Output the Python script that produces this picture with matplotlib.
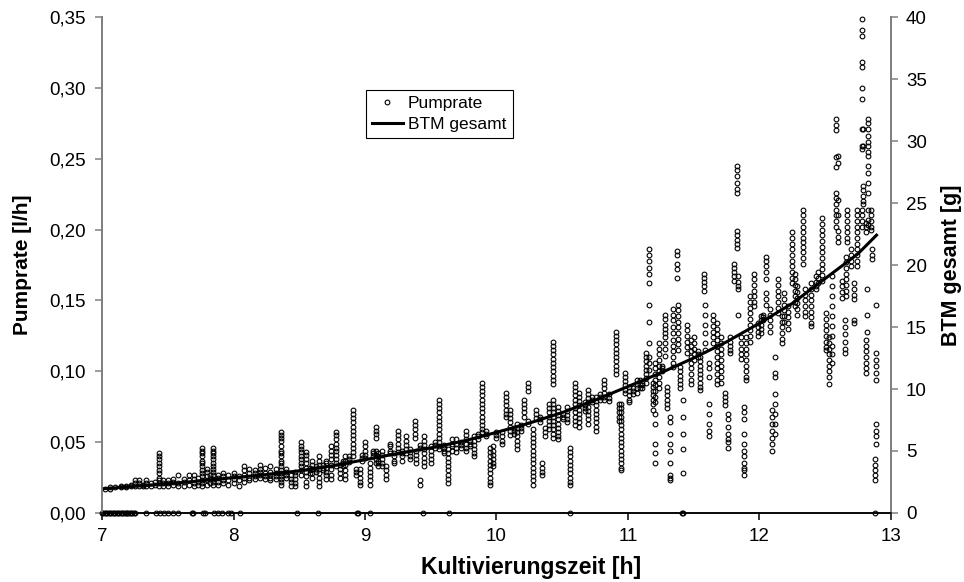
import matplotlib
matplotlib.use("Agg")
import matplotlib.pyplot as plt
from matplotlib.ticker import FuncFormatter, MultipleLocator
from matplotlib.lines import Line2D

plt.rcParams["font.family"] = ["Liberation Sans", "DejaVu Sans"]

# BTM gesamt (Linie, rechte Achse) in g
btm_zeit = [7.0, 7.25, 7.5, 7.75, 8.0, 8.25, 8.5, 8.75, 9.0, 9.25, 9.5, 9.75,
            10.0, 10.25, 10.5, 10.75, 11.0, 11.25, 11.5, 11.75, 12.0, 12.25,
            12.5, 12.75, 12.9]
btm_gesamt = [1.95, 2.15, 2.35, 2.6, 2.85, 3.1, 3.4, 3.8, 4.3, 4.8, 5.25, 5.8,
              6.5, 7.25, 8.1, 9.1, 10.2, 11.3, 12.5, 13.8, 15.3, 16.9,
              18.9, 20.9, 22.5]

pump_7h = [
    (7.02, [17]), (7.06, [17, 18]), (7.10, [18]), (7.14, [18, 19]), (7.18, [18, 19]),
    (7.22, [19, 20]), (7.25, [19, 21, 23]), (7.28, [19, 21, 23]), (7.31, [19, 20]),
    (7.33, [19, 21, 23]), (7.37, [19, 21]), (7.40, [20, 22]),
    (7.43, [42, 40, 38, 35, 33, 30, 28, 25, 23, 21, 19]),
    (7.46, [19, 21, 23]), (7.50, [19, 21, 23]), (7.54, [20, 22, 24]), (7.58, [19, 21, 27]),
    (7.62, [19, 22, 24]), (7.66, [20, 23, 27]), (7.70, [19, 21, 24, 27]), (7.73, [20, 22, 25]),
    (7.76, [46, 44, 42, 40, 37, 35, 33, 30, 28, 26, 23, 21, 19]),
    (7.80, [20, 23, 26, 29, 31]), (7.82, [21, 24, 27]),
    (7.84, [46, 44, 42, 40, 38, 35, 33, 31, 29, 27, 24, 22, 20]),
    (7.88, [20, 22, 25, 27]), (7.92, [21, 23, 26, 28]), (7.96, [20, 23, 27]),
]
pump_8h = [
    (8.00, [21, 24, 26, 28]), (8.04, [19, 23, 26]), (8.08, [22, 25, 27, 30, 33]),
    (8.12, [23, 25, 28, 31]), (8.16, [24, 26, 28, 30]), (8.20, [25, 27, 29, 31, 34]),
    (8.24, [24, 26, 28, 32]), (8.28, [23, 25, 27, 29, 33]), (8.32, [24, 26, 28, 31]),
    (8.36, [57, 55, 53, 51, 47, 44, 42, 40, 37, 35, 33, 30, 28, 26, 24, 22, 20]),
    (8.40, [25, 27, 29, 31]), (8.44, [19, 22, 24, 27]), (8.47, [19, 21, 24, 27, 29]),
    (8.51, [50, 47, 45, 43, 40, 38, 35, 33, 30, 27]),
    (8.55, [43, 41, 38, 35, 32, 29, 26, 22, 19]), (8.58, [28, 30, 32]),
    (8.60, [37, 34, 31, 28, 25]), (8.63, [29, 31, 33]),
    (8.65, [40, 37, 34, 31, 28, 25, 22, 19]), (8.68, [30, 32, 34]),
    (8.70, [37, 35, 32, 29, 27, 24]), (8.74, [47, 44, 41, 38, 34, 31, 27, 24]),
    (8.78, [57, 55, 52, 49, 46, 44, 41, 38, 35, 33]), (8.81, [34, 31, 28, 25]),
    (8.83, [33, 35, 37]), (8.85, [40, 37, 34, 30, 27, 24]), (8.88, [36, 38, 40]),
    (8.91, [73, 70, 67, 64, 61, 58, 55, 52, 49, 46, 43, 40]),
    (8.93, [31, 29, 27]), (8.96, [31, 28, 25, 22, 20]), (8.98, [37, 39, 41]),
]
pump_9h = [
    (9.00, [50, 47, 44, 41, 39]), (9.04, [35, 32, 29, 26, 23, 20]), (9.06, [40, 42, 44]),
    (9.08, [61, 58, 56, 53, 44, 41, 38, 35]), (9.10, [42, 40, 37, 35, 33]),
    (9.13, [44, 41, 38, 35, 33]), (9.16, [33, 30, 27, 24]), (9.19, [49, 47, 44, 42]),
    (9.22, [42, 40, 37, 35]), (9.25, [58, 55, 52, 49, 46, 43]), (9.28, [44, 42, 40, 37]),
    (9.31, [54, 51, 48, 45, 42]), (9.34, [45, 43, 40, 38]), (9.38, [65, 62, 59, 56, 53]),
    (9.39, [44, 41, 38, 35]), (9.42, [48, 46, 23, 20]),
    (9.45, [54, 51, 48, 45, 42, 39, 36, 33]), (9.50, [47, 44, 41, 38, 35]),
    (9.53, [50, 48, 46]),
    (9.56, [80, 77, 74, 71, 68, 65, 62, 59, 56, 53, 50, 47, 45]), (9.60, [48, 46, 44, 42]),
    (9.63, [45, 42, 39, 36, 33, 30, 27, 24, 21]), (9.66, [52, 49, 47, 44]),
    (9.69, [52, 49, 46, 43]), (9.73, [50, 48, 46]), (9.77, [58, 55, 52, 49, 46, 44]),
    (9.80, [51, 49, 47]), (9.83, [54, 51, 48, 45, 42, 40]), (9.86, [56, 54, 52]),
    (9.89, [92, 89, 86, 83, 80, 77, 74, 71, 68, 65, 62, 59, 57]), (9.92, [58, 56, 54]),
    (9.95, [46, 43, 40, 37, 34, 31, 28, 25, 22, 20]), (9.97, [47, 44, 41, 38, 35, 33]),
]
pump_10h = [
    (10.00, [57, 55, 53]), (10.04, [57, 54, 51, 49]), (10.07, [85, 82, 79, 76, 73, 70, 68]),
    (10.10, [73, 70, 67, 64, 61, 58, 55]), (10.13, [60, 58, 56]),
    (10.16, [63, 60, 57, 54, 51, 48, 45]), (10.19, [62, 60, 58]),
    (10.21, [80, 77, 74, 71, 68]), (10.24, [92, 89, 86, 65, 63]),
    (10.28, [59, 56, 53, 50, 47, 44, 41, 38, 35, 32, 29, 26, 23, 20]),
    (10.30, [73, 70, 67]), (10.33, [64, 66, 68]), (10.35, [35, 32, 29, 27]),
    (10.37, [54, 57, 60]), (10.40, [77, 74, 71, 68, 65, 62, 59]),
    (10.43, [121, 118, 115, 112, 109, 106, 103, 100, 97, 94, 91, 80, 77, 74, 71, 68, 65,
             62, 59, 56, 53]),
    (10.47, [75, 72, 69, 66, 63, 60, 57, 54, 52]), (10.51, [70, 68, 66]),
    (10.54, [75, 72, 69, 66, 64]), (10.56, [46, 43, 40, 37, 34, 31, 28, 25, 22, 20]),
    (10.60, [92, 89, 86, 83, 80, 77, 74, 71, 68, 65, 62]),
    (10.63, [85, 82, 79, 76, 73, 70, 67, 64, 61]), (10.67, [78, 76, 74, 72]),
    (10.70, [87, 84, 81, 78, 75, 72, 69, 66, 63]), (10.73, [82, 80, 78]),
    (10.76, [82, 79, 76, 73, 70, 67, 64, 61, 58]), (10.79, [84, 82, 80]),
    (10.82, [94, 91, 88, 85, 82, 80]), (10.86, [84, 81, 79]),
    (10.91, [128, 125, 122, 119, 116, 113, 110, 107, 104, 101, 98]),
    (10.93, [77, 74, 71, 68, 65]),
    (10.95, [77, 74, 71, 68, 65, 62, 59, 56, 53, 50, 47, 44, 41, 38, 35, 32, 30]),
    (10.98, [99, 96, 93, 90, 87, 85]),
]
pump_11h = [
    (11.01, [89, 86, 83, 80, 78]), (11.04, [88, 86, 84]), (11.07, [94, 91, 88, 85]),
    (11.09, [94, 91, 88]), (11.11, [92, 90, 88]),
    (11.14, [113, 110, 107, 104, 101, 98, 95, 92]),
    (11.16, [186, 182, 178, 173, 169, 162, 147, 135, 120, 110, 106, 101]),
    (11.19, [92, 89, 86, 83, 80, 77, 73]),
    (11.21, [106, 102, 98, 94, 90, 86, 82, 78, 70, 63, 49, 42, 35]),
    (11.24, [120, 116, 112, 108, 104, 100, 96, 92, 88]), (11.26, [100, 102, 104]),
    (11.28, [140, 137, 133, 130, 127, 124, 120, 116, 111]),
    (11.30, [89, 86, 83, 80, 77, 74]), (11.32, [68, 64, 56, 49, 44, 35, 27, 25, 23]),
    (11.34, [144, 140, 136, 131, 127, 122, 118, 114, 110, 106, 103]),
    (11.37, [185, 182, 176, 172, 166]),
    (11.38, [147, 143, 139, 135, 131, 127, 123, 119, 115]),
    (11.40, [103, 100, 97, 94, 91, 88]), (11.42, [80, 68, 56, 45, 28]),
    (11.45, [133, 129, 125, 121, 117, 113]),
    (11.48, [122, 118, 114, 110, 106, 102, 98, 94, 91]),
    (11.50, [124, 120, 116, 112, 108]), (11.53, [110, 112, 114]),
    (11.55, [110, 107, 104, 101, 98, 95, 92, 89, 87]),
    (11.58, [169, 166, 163, 160, 157]), (11.59, [147, 140, 133, 127, 120, 115]),
    (11.62, [106, 102, 96, 77, 70, 63, 58, 54]),
    (11.65, [140, 136, 132, 128, 124, 120]),
    (11.68, [134, 130, 126, 122, 118, 114, 110, 106, 102, 98, 94, 91]),
    (11.71, [124, 120, 116, 112, 108, 104, 100, 96, 92]), (11.74, [85, 82, 79, 76]),
    (11.76, [70, 66, 61, 56, 52, 50, 46]), (11.78, [124, 121, 118, 115, 113]),
    (11.81, [176, 173, 170, 167, 164]),
    (11.83, [245, 242, 238, 233, 229, 226, 199, 196, 193, 190, 187]),
    (11.84, [167, 163, 160, 158, 140]), (11.86, [124, 120, 116, 112, 109]),
    (11.88, [75, 71, 66, 56, 49, 44, 40, 35, 32, 30, 27]),
    (11.90, [124, 120, 116, 112, 108, 104, 100, 96, 94]),
    (11.93, [153, 149, 145, 141, 137, 133, 129, 125, 121]),
    (11.96, [169, 165, 161, 157, 153, 149, 146]), (11.99, [134, 131, 128, 125]),
]
pump_12h = [
    (12.01, [139, 136, 133, 130, 127]), (12.03, [136, 138, 140]),
    (12.05, [181, 178, 174, 170, 165, 155, 151, 147]),
    (12.08, [144, 140, 136, 132, 128]), (12.10, [73, 68, 63, 58, 53, 49, 44]),
    (12.12, [110, 99, 96, 84, 77, 70, 63, 56]),
    (12.14, [165, 161, 157, 153, 149, 145, 141]), (12.17, [139, 135, 131, 127, 123, 120]),
    (12.19, [155, 151, 147, 143, 139, 135]), (12.22, [146, 142, 138, 134, 130]),
    (12.25, [198, 194, 190, 186, 182, 178, 174, 170, 166, 162]),
    (12.27, [169, 165, 161, 157, 153, 149, 146]),
    (12.29, [160, 156, 152, 148, 144, 140]),
    (12.33, [214, 210, 206, 202, 198, 194, 191, 188, 184, 180, 176]),
    (12.35, [158, 154, 150, 146, 142, 139]),
    (12.39, [162, 158, 154, 150, 146, 142, 138, 134, 132]),
    (12.43, [167, 163, 160, 158]), (12.45, [170, 166, 162]),
    (12.48, [208, 204, 200, 196, 192, 188, 184, 180, 176, 172, 168, 164]),
    (12.51, [141, 137, 133, 129, 125, 121, 117, 115]),
    (12.53, [124, 120, 116, 112, 108, 104, 100, 96, 91]),
    (12.55, [167, 160, 153, 146, 139, 132, 125, 118, 112, 106]),
    (12.58, [278, 274, 270, 251, 244, 226, 222, 218, 214, 210, 206, 202]),
    (12.60, [252, 247, 221, 210, 199, 195, 191]), (12.63, [164, 160, 156, 152]),
    (12.65, [136, 131, 126, 121, 116, 113]),
    (12.66, [181, 177, 173, 169, 165, 161, 157, 153]),
    (12.67, [214, 210, 206, 202, 198, 194, 191]), (12.70, [186, 182, 178, 174]),
    (12.72, [162, 158, 154, 151, 136, 134]),
    (12.74, [214, 210, 206, 202, 198, 194, 190, 186, 182, 178, 174]),
    (12.78, [349, 341, 337, 318, 315, 300, 292, 271, 259, 257, 214, 210, 206, 202]),
    (12.79, [271, 259, 231, 228, 224, 220, 218]),
    (12.81, [205, 202, 198, 122, 118, 114, 110, 106, 102, 99]),
    (12.82, [158, 140, 128]),
    (12.83, [278, 275, 271, 266, 262, 259, 255, 252, 245, 240, 233, 226, 214, 207, 203]),
    (12.85, [214, 210, 206, 202, 200]), (12.86, [186, 182, 179]),
    (12.88, [38, 34, 30, 27, 23]),
    (12.89, [147, 113, 108, 104, 99, 94, 63, 58, 54, 49]),
]
# Zeitpunkte mit Pumprate 0
null_zeit = [7.00, 7.01, 7.02, 7.03, 7.04, 7.05, 7.06, 7.07, 7.08, 7.09, 7.10, 7.11,
             7.12, 7.13, 7.14, 7.15, 7.16, 7.17, 7.18, 7.19, 7.20, 7.21, 7.22, 7.23,
             7.24, 7.25, 7.33, 7.41, 7.44, 7.47, 7.50, 7.54, 7.58, 7.68, 7.69, 7.77,
             7.78, 7.85, 7.88, 7.91, 7.96, 7.98, 8.05, 8.48, 8.64, 8.94, 8.95, 9.04,
             9.44, 9.64, 10.56, 11.41, 11.42, 12.88]

zeit, pumprate = [], []
for block in (pump_7h, pump_8h, pump_9h, pump_10h, pump_11h, pump_12h):
    for t, werte in block:
        for w in werte:
            zeit.append(t)
            pumprate.append(w / 1000.0)
zeit += null_zeit
pumprate += [0.0] * len(null_zeit)

fig = plt.figure(figsize=(9.64, 5.82), dpi=100)
ax = fig.add_axes([0.106, 0.1186, 0.818, 0.852])
ax2 = ax.twinx()

ax.plot(zeit, pumprate, "o", ms=3.4, mfc="none", mec="black", mew=0.8,
        clip_on=False, zorder=3)
ax2.plot(btm_zeit, btm_gesamt, "-", color="black", lw=2.2, solid_capstyle="butt")

ax.set_xlim(7, 13)
ax.set_ylim(0, 0.35)
ax2.set_ylim(0, 40)
ax.xaxis.set_major_locator(MultipleLocator(1))
ax.yaxis.set_major_locator(MultipleLocator(0.05))
ax2.yaxis.set_major_locator(MultipleLocator(5))
ax.yaxis.set_major_formatter(FuncFormatter(lambda v, p: f"{v:.2f}".replace(".", ",")))

gray = "#808080"
for a in (ax, ax2):
    a.spines["top"].set_visible(False)
    a.spines["left"].set_color(gray)
    a.spines["right"].set_color(gray)
    a.spines["bottom"].set_color("black")
    a.spines["left"].set_linewidth(1.3)
    a.spines["right"].set_linewidth(1.3)
    a.spines["bottom"].set_linewidth(1.1)
ax.tick_params(axis="y", direction="out", length=5, width=1.1, color=gray,
               labelsize=13.5, pad=7)
ax.tick_params(axis="x", direction="out", length=5, width=1.1, color="black",
               labelsize=13.5, pad=6)
ax2.tick_params(axis="y", direction="out", length=5, width=1.1, color=gray,
                labelsize=13.5, pad=6)

ax.set_xlabel("Kultivierungszeit [h]", fontsize=16.5, fontweight="bold")
ax.xaxis.set_label_coords(0.544, -0.086)
ax.set_ylabel("Pumprate [l/h]", fontsize=15, fontweight="bold")
ax.yaxis.label.set_va("center")
ax.yaxis.set_label_coords(-0.101, 0.5)
ax2.set_ylabel("BTM gesamt [g]", fontsize=15.5, fontweight="bold")
ax2.yaxis.label.set_va("center")
ax2.yaxis.set_label_coords(1.077, 0.5)

handles = [Line2D([], [], ls="none", marker="o", ms=3.4, mfc="none", mec="black", mew=0.8),
           Line2D([], [], color="black", lw=2.2)]
leg = ax2.legend(handles, ["Pumprate", "BTM gesamt"], loc="upper left",
                 bbox_to_anchor=(0.334, 0.853), fontsize=12.5, frameon=True,
                 fancybox=False, edgecolor="black", framealpha=1, handlelength=1.8,
                 handletextpad=0.3, borderpad=0.35, labelspacing=0.3, borderaxespad=0)
leg.get_frame().set_linewidth(0.8)

fig.savefig("out.png", dpi=100)
